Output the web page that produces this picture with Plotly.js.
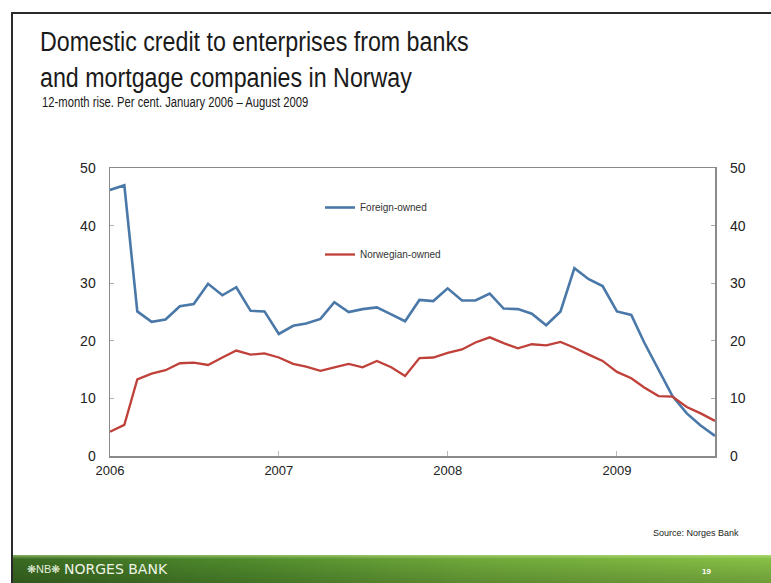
<!DOCTYPE html>
<html>
<head>
<meta charset="utf-8">
<script src="https://cdn.plot.ly/plotly-3.0.1.min.js"></script>
<style>
  html, body { margin: 0; padding: 0; background: #ffffff; }
  #wrap { position: relative; width: 771px; height: 583px; overflow: hidden; background: #ffffff; }
  #frame { position: absolute; left: 11px; top: 12px; width: 770px; height: 580px;
           border-top: 2px solid #2a2a2a; border-left: 2px solid #2a2a2a; }
  #band { position: absolute; left: 13px; top: 555px; width: 758px; height: 28px;
          background: linear-gradient(to bottom, rgba(200,235,150,0.55) 0px, rgba(255,255,255,0.0) 4px, rgba(0,0,0,0.18) 28px),
                      linear-gradient(to right, #3a6a22 0%, #4f8a2c 30%, #6fa83a 60%, #86bf45 100%); }
  #chart { position: absolute; left: 0; top: 0; width: 771px; height: 583px; }
</style>
</head>
<body>
<div id="wrap">
  <div id="frame"></div>
  <div id="band"></div>
  <div id="chart"></div>
</div>
<script>
// Monthly observations, January 2006 – August 2009
const months = [
  '2006-01-01','2006-02-01','2006-03-01','2006-04-01','2006-05-01','2006-06-01',
  '2006-07-01','2006-08-01','2006-09-01','2006-10-01','2006-11-01','2006-12-01',
  '2007-01-01','2007-02-01','2007-03-01','2007-04-01','2007-05-01','2007-06-01',
  '2007-07-01','2007-08-01','2007-09-01','2007-10-01','2007-11-01','2007-12-01',
  '2008-01-01','2008-02-01','2008-03-01','2008-04-01','2008-05-01','2008-06-01',
  '2008-07-01','2008-08-01','2008-09-01','2008-10-01','2008-11-01','2008-12-01',
  '2009-01-01','2009-02-01','2009-03-01','2009-04-01','2009-05-01','2009-06-01',
  '2009-07-01','2009-08-01'
];

const foreignOwned = [
  46.2, 47.0, 25.1, 23.3, 23.7, 26.0, 26.4, 29.9, 27.9, 29.3, 25.2, 25.1,
  21.2, 22.6, 23.0, 23.8, 26.7, 25.0, 25.5, 25.8, 24.6, 23.4, 27.1, 26.9,
  29.1, 27.0, 27.0, 28.2, 25.6, 25.5, 24.7, 22.7, 25.1, 32.6, 30.7, 29.5,
  25.1, 24.5, 19.7, 14.9, 10.4, 7.4, 5.3, 3.5
];

const norwegianOwned = [
  4.2, 5.4, 13.3, 14.3, 14.9, 16.1, 16.2, 15.8, 17.1, 18.3, 17.6, 17.8,
  17.1, 16.0, 15.5, 14.8, 15.4, 16.0, 15.4, 16.5, 15.4, 13.9, 17.0, 17.1,
  17.9, 18.5, 19.7, 20.6, 19.6, 18.7, 19.4, 19.2, 19.8, 18.8, 17.6, 16.5,
  14.6, 13.5, 11.9, 10.4, 10.3, 8.5, 7.4, 6.1
];

const seriesNames = ['Foreign-owned', 'Norwegian-owned'];
const yearTickVals = ['2006-01-01', '2007-01-01', '2008-01-01', '2009-01-01'];
const yearTickText = ['2006', '2007', '2008', '2009'];
const yTickVals = [0, 10, 20, 30, 40, 50];

const titleText = 'Domestic credit to enterprises from banks<br>and mortgage companies in Norway';
const subtitleText = '12-month rise. Per cent. January 2006 \u2013 August 2009';
const sourceText = 'Source: Norges Bank';
const bankText = 'NORGES BANK';
const logoText = '\u274BNB\u274B';
const pageText = '19';

const W = 771, H = 583;
const M = { l: 110, r: 56, t: 168, b: 127 };
const PW = W - M.l - M.r, PH = H - M.t - M.b;
const px = x => (x - M.l) / PW;
const py = y => (H - M.b - y) / PH;

const sans = '"Liberation Sans", Arial, sans-serif';

const traces = [
  {
    x: months, y: foreignOwned, name: seriesNames[0], type: 'scatter', mode: 'lines',
    line: { color: '#4a78a8', width: 2.6 }, legendgroup: 'a'
  },
  {
    x: months, y: norwegianOwned, name: seriesNames[1], type: 'scatter', mode: 'lines',
    line: { color: '#c0403a', width: 2.3 }, legendgroup: 'b'
  },
  {
    x: months, y: norwegianOwned, yaxis: 'y2', type: 'scatter', mode: 'lines',
    line: { color: 'rgba(0,0,0,0)', width: 0 }, showlegend: false, hoverinfo: 'skip'
  }
];

const layout = {
  width: W, height: H,
  margin: M,
  paper_bgcolor: 'rgba(0,0,0,0)',
  plot_bgcolor: 'rgba(0,0,0,0)',
  font: { family: sans, color: '#222222' },
  showlegend: true,
  title: {
    text: titleText,
    font: { family: sans, size: 28, color: '#1a1a1a' },
    xref: 'container', yref: 'container',
    x: 40 / W, xanchor: 'left',
    y: 1 - 51 / H, yanchor: 'top'
  },
  legend: {
    x: px(320), y: py(193), xanchor: 'left', yanchor: 'top',
    bgcolor: 'rgba(0,0,0,0)',
    font: { family: sans, size: 10, color: '#333333' },
    tracegroupgap: 28,
    itemwidth: 30
  },
  xaxis: {
    type: 'date',
    range: ['2006-01-01', '2009-08-01'],
    tickvals: yearTickVals, ticktext: yearTickText,
    ticks: 'inside', ticklen: 5, tickcolor: '#bbbbbb',
    showgrid: false, zeroline: false,
    showline: true, linecolor: '#8a8a8a', linewidth: 1.5, mirror: true,
    tickfont: { family: sans, size: 13, color: '#222222' },
    ticklabelstandoff: 2
  },
  yaxis: {
    range: [0, 50], tickvals: yTickVals,
    ticks: 'inside', ticklen: 4, tickcolor: '#aaaaaa',
    showgrid: false, zeroline: false,
    showline: true, linecolor: '#8a8a8a', linewidth: 1.5, mirror: true,
    tickfont: { family: sans, size: 14, color: '#222222' },
    ticklabelstandoff: 10
  },
  yaxis2: {
    range: [0, 50], tickvals: yTickVals,
    overlaying: 'y', side: 'right',
    ticks: 'inside', ticklen: 4, tickcolor: '#aaaaaa',
    showgrid: false, zeroline: false, showline: false,
    tickfont: { family: sans, size: 14, color: '#222222' },
    ticklabelstandoff: 14
  },
  annotations: [
    {
      text: subtitleText, xref: 'paper', yref: 'paper',
      x: px(40), y: py(101), xanchor: 'left', yanchor: 'middle',
      showarrow: false, font: { family: sans, size: 15, color: '#1a1a1a' }
    },
    {
      text: sourceText, xref: 'paper', yref: 'paper',
      x: px(741), y: py(533), xanchor: 'right', yanchor: 'middle',
      showarrow: false, font: { family: sans, size: 9, color: '#222222' }
    },
    {
      text: logoText, xref: 'paper', yref: 'paper',
      x: px(25), y: py(569), xanchor: 'left', yanchor: 'middle',
      showarrow: false, font: { family: sans, size: 11, color: '#e4eedc' }
    },
    {
      text: bankText, xref: 'paper', yref: 'paper',
      x: px(62), y: py(569), xanchor: 'left', yanchor: 'middle',
      showarrow: false, font: { family: '"DejaVu Sans", sans-serif', size: 14, color: '#eef4e6' }
    },
    {
      text: '<b>' + pageText + '</b>', xref: 'paper', yref: 'paper',
      x: px(706), y: py(571), xanchor: 'center', yanchor: 'middle',
      showarrow: false, font: { family: sans, size: 8, color: '#ffffff' }
    }
  ]
};

// The slide's heading fonts are condensed; narrow the title texts horizontally.
function condense(el, sx) {
  if (!el) return;
  const bb = el.getBBox();
  const prev = el.getAttribute('transform') || '';
  el.setAttribute('transform', (prev + ' translate(' + bb.x + ',0) scale(' + sx + ',1) translate(' + (-bb.x) + ',0)').trim());
}

Plotly.newPlot('chart', traces, layout, { displayModeBar: false, staticPlot: true }).then(gd => {
  condense(gd.querySelector('.gtitle'), 0.83);
  const sub = gd.querySelector('.annotation[data-index="0"] .annotation-text');
  condense(sub, 0.75);
});
</script>
</body>
</html>
